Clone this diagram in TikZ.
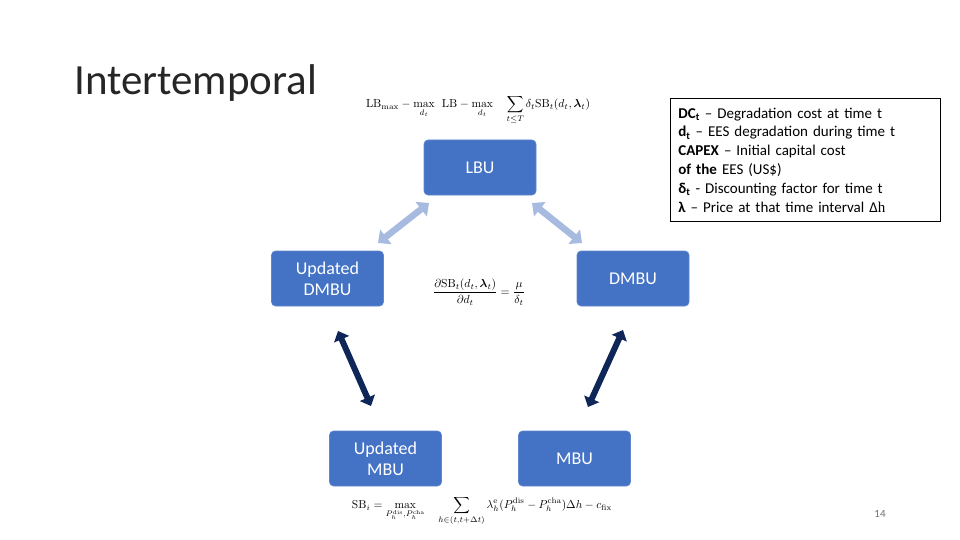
\documentclass[tikz,border=0pt]{standalone}
\usepackage[no-math]{fontspec}
\usepackage{amsmath,bm,graphicx}
\setmainfont{Carlito}
\newfontfamily\serifh{Liberation Serif}
\usetikzlibrary{arrows.meta}
\definecolor{boxblue}{HTML}{4472C4}
\definecolor{lightarr}{HTML}{A7BBE0}
\definecolor{darkarr}{HTML}{0F2658}
\tikzset{
  ubox/.style={rectangle, rounded corners=4pt, fill=boxblue, draw=boxblue!85!white, line width=0.6pt,
    minimum width=112pt, minimum height=55pt, inner sep=0pt, text=white, align=center,
    font=\fontsize{18}{21}\selectfont},
  lightlink/.style={draw=lightarr, line width=6.5pt,
    {Triangle[length=10pt,width=18pt]}-{Triangle[length=10pt,width=18pt]}},
  darklink/.style={draw=darkarr, line width=6pt,
    {Triangle[length=9pt,width=16pt]}-{Triangle[length=9pt,width=16pt]}},
  formula/.style={inner sep=0pt},
}
\begin{document}
\begin{tikzpicture}[x=1pt,y=-1pt]
\useasboundingbox (0,0) rectangle (960,540);
\fill[white] (0,0) rectangle (960,540);

% title
\node[anchor=base west, inner sep=0pt, font=\fontsize{43}{50}\selectfont, text=black!85] (title) at (74,95) {Intertemporal};

% boxes
\node[ubox] (lbu) at (480,167.5) {LBU};
\node[ubox] (udmbu) at (327.5,278.5) {Updated\\DMBU};
\node[ubox] (dmbu) at (633,278.5) {DMBU};
\node[ubox] (umbu) at (385.5,458.5) {Updated\\MBU};
\node[ubox] (mbu) at (574.5,458.5) {MBU};

% arrow end coordinates
\coordinate (la1) at (378,243);
\coordinate (la2) at (429,203);
\coordinate (ra1) at (532,203);
\coordinate (ra2) at (582,243);
\coordinate (ld1) at (338,331);
\coordinate (ld2) at (371,406);
\coordinate (rd1) at (623,330);
\coordinate (rd2) at (588,407);

\draw[lightlink] (la1) -- (la2);
\draw[lightlink] (ra1) -- (ra2);
\draw[darklink] (ld1) -- (ld2);
\draw[darklink] (rd1) -- (rd2);

% formulas
\node[formula] (f1) at (478,110) {\resizebox{224pt}{!}{$\displaystyle \mathrm{LB}_{\mathrm{max}} - \max_{d_t}\ \ \mathrm{LB}- \max_{d_t}\quad \sum_{t\le T}\delta_t\mathrm{SB}_t(d_t,\bm{\lambda}_t)$}};
\node[formula] (f2) at (479,292) {\resizebox{92pt}{!}{$\displaystyle \frac{\partial\mathrm{SB}_t(d_t,\bm{\lambda}_t)}{\partial d_t}=\frac{\mu}{\delta_t}$}};
\node[formula] (f3) at (482,511) {\resizebox{260pt}{!}{$\displaystyle \mathrm{SB}_i=\max_{P_h^{\mathrm{dis}},P_h^{\mathrm{cha}}}\quad\sum_{h\in(t,t+\Delta t)}\lambda_h^{\mathrm{e}}(P_h^{\mathrm{dis}}-P_h^{\mathrm{cha}})\Delta h-c_{\mathrm{fix}}$}};

% legend box
\node[draw=black, line width=0.8pt, anchor=north west, minimum width=270pt, minimum height=123pt,
  text width=254pt, align=left, inner sep=8pt, font=\fontsize{15}{18.8}\selectfont] (legend) at (670,98)
  {\textbf{DC\textsubscript{t}} – Degradation cost at time t\\
   \textbf{d\textsubscript{t}} – EES degradation during time t\\
   \textbf{CAPEX} – Initial capital cost\\
   \textbf{of the} EES (US\$)\\
   \textbf{δ\textsubscript{t}} - Discounting factor for time t\\
   \textbf{λ} – Price at that time interval Δ{\serifh h}};

% page number
\node[font=\fontsize{11}{13}\selectfont, text=black!55] (pnum) at (880,514) {14};
\end{tikzpicture}
\end{document}
